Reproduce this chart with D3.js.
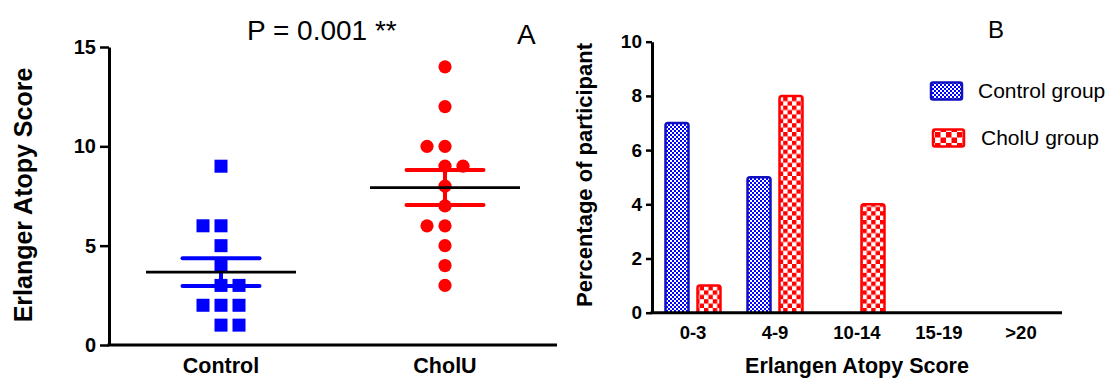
<!DOCTYPE html>
<html><head><meta charset="utf-8">
<script src="https://cdn.jsdelivr.net/npm/d3@7"></script>
<style>
body{margin:0;background:#fff}
svg{display:block}
text{font-family:Arial,"Liberation Sans",sans-serif;fill:#000}
</style>
</head><body>
<svg id="chart" width="1112" height="378"></svg>
<script>
// Panel A: individual Erlanger atopy scores per group
const groups = ["Control", "CholU"];
const controlScores = [9, 6, 6, 5, 4, 3, 3, 2, 2, 2, 1, 1];
const cholUScores = [14, 12, 10, 10, 9, 9, 8, 7, 6, 6, 5, 4, 3];
const scoreTicks = [0, 5, 10, 15];

// Panel B: number of participants in each score band
const scoreBands = ["0-3", "4-9", "10-14", "15-19", ">20"];
const controlCounts = [7, 5, 0, 0, 0];
const cholUCounts = [1, 8, 4, 0, 0];
const countTicks = [0, 2, 4, 6, 8, 10];
const seriesNames = ["Control group", "CholU group"];

const BLUE = "#0000ff", BLUE_EDGE = "#1010c0", RED = "#ff0000";

const svg = d3.select("#chart");
const defs = svg.append("defs");

// checkered fills for the bars
function checker(id, size, color) {
  const p = defs.append("pattern").attr("id", id)
    .attr("patternUnits", "userSpaceOnUse")
    .attr("width", size * 2).attr("height", size * 2);
  p.append("rect").attr("width", size * 2).attr("height", size * 2).attr("fill", "#fff");
  p.append("rect").attr("width", size).attr("height", size).attr("fill", color);
  p.append("rect").attr("x", size).attr("y", size).attr("width", size).attr("height", size).attr("fill", color);
}
checker("blueCheck", 2, BLUE);
checker("redCheck", 4.4, RED);
checker("redCheckKey", 5.5, RED);

/* ---------------- Panel A ---------------- */
const yA = d3.scaleLinear().domain([0, 15]).range([345, 47]);
const xA = d3.scalePoint().domain(groups).range([109, 557]).padding(0.5);

const gA = svg.append("g");

// y axis
const axA = gA.append("g").attr("transform", "translate(109,0)")
  .call(d3.axisLeft(yA).tickValues(scoreTicks).tickSize(9).tickSizeOuter(0).tickPadding(4));
axA.select(".domain").attr("stroke", "#000").attr("stroke-width", 3);
axA.selectAll(".tick line").attr("stroke", "#000").attr("stroke-width", 2.5);
axA.selectAll(".tick text").style("font-size", "20px").style("font-weight", "bold")
  .attr("fill", "#000");

// x axis line + category labels
gA.append("line").attr("x1", xA.range()[0] - 1.5).attr("x2", xA.range()[1])
  .attr("y1", yA(0)).attr("y2", yA(0)).attr("stroke", "#000").attr("stroke-width", 3);
gA.selectAll("text.cat").data(groups).join("text").attr("class", "cat")
  .attr("x", d => xA(d)).attr("y", 373).attr("text-anchor", "middle")
  .style("font-size", "21.5px").style("font-weight", "bold").text(d => d);

// side-by-side placement of tied scores (column offset in marker widths)
const controlCols = [0, -1, 0, 0, 0, 0, 1, -1, 0, 1, 0, 1];
const cholUCols = [0, 0, -1, 0, 0, 1, 0, 0, -1, 0, 0, 0, 0];
const colStep = 18;

gA.append("g").selectAll("rect").data(controlScores).join("rect")
  .attr("x", (d, i) => xA("Control") + controlCols[i] * colStep - 6.5)
  .attr("y", d => yA(d) - 6.5).attr("width", 13).attr("height", 13)
  .attr("fill", BLUE);

gA.append("g").selectAll("circle").data(cholUScores).join("circle")
  .attr("cx", (d, i) => xA("CholU") + cholUCols[i] * colStep)
  .attr("cy", d => yA(d)).attr("r", 6.6).attr("fill", RED);

// mean and SEM for each group
function meanSem(arr) {
  const m = d3.mean(arr);
  const s = d3.deviation(arr) / Math.sqrt(arr.length);
  return [m, s];
}
[["Control", controlScores, BLUE], ["CholU", cholUScores, RED]].forEach(([g, arr, col]) => {
  const [m, s] = meanSem(arr);
  const cx = xA(g);
  gA.append("line").attr("x1", cx).attr("x2", cx)
    .attr("y1", yA(m + s)).attr("y2", yA(m - s))
    .attr("stroke", col).attr("stroke-width", 4);
  [m + s, m - s].forEach(v => {
    gA.append("line").attr("x1", cx - 38.5).attr("x2", cx + 38.5)
      .attr("y1", yA(v)).attr("y2", yA(v))
      .attr("stroke", col).attr("stroke-width", 4).attr("stroke-linecap", "round");
  });
  gA.append("line").attr("x1", cx - 75).attr("x2", cx + 75)
    .attr("y1", yA(m)).attr("y2", yA(m))
    .attr("stroke", "#000").attr("stroke-width", 2.6);
});

gA.append("text").attr("x", 247).attr("y", 40).style("font-size", "28px").text("P = 0.001 **");
gA.append("text").attr("x", 517).attr("y", 44).style("font-size", "28px").text("A");
gA.append("text").attr("transform", "translate(32,195) rotate(-90)")
  .attr("text-anchor", "middle").style("font-size", "25px").style("font-weight", "bold")
  .text("Erlanger Atopy Score");

/* ---------------- Panel B ---------------- */
const yB = d3.scaleLinear().domain([0, 10]).range([312.7, 41.7]);
const xB = d3.scaleBand().domain(scoreBands).range([652, 1062]);
const barW = 23, barOff = 16;

const gB = svg.append("g");
const axB = gB.append("g").attr("transform", "translate(652,0)")
  .call(d3.axisLeft(yB).tickValues(countTicks).tickSize(6).tickSizeOuter(0).tickPadding(4));
axB.select(".domain").attr("stroke", "#000").attr("stroke-width", 3);
axB.selectAll(".tick line").attr("stroke", "#000").attr("stroke-width", 2.5);
axB.selectAll(".tick text").style("font-size", "19px").style("font-weight", "bold")
  .attr("fill", "#000");

gB.selectAll("text.band").data(scoreBands).join("text").attr("class", "band")
  .attr("x", d => xB(d) + xB.bandwidth() / 2).attr("y", 339)
  .attr("text-anchor", "middle").style("font-size", "18.5px").style("font-weight", "bold")
  .text(d => d);

function bars(counts, dx, fill, edge) {
  gB.append("g").selectAll("path").data(counts.map((v, i) => [scoreBands[i], v]).filter(d => d[1] > 0))
    .join("path")
    .attr("d", d => {
      const x0 = xB(d[0]) + xB.bandwidth() / 2 + dx - barW / 2;
      const y0 = yB(d[1]), y1 = yB(0), r = 2.5;
      return `M${x0},${y1}V${y0 + r}Q${x0},${y0} ${x0 + r},${y0}H${x0 + barW - r}` +
        `Q${x0 + barW},${y0} ${x0 + barW},${y0 + r}V${y1}`;
    })
    .attr("fill", fill).attr("stroke", edge).attr("stroke-width", 2.5);
}
bars(controlCounts, -barOff, "url(#blueCheck)", BLUE_EDGE);
bars(cholUCounts, barOff, "url(#redCheck)", RED);

// x axis line drawn over the bar bottoms
gB.append("line").attr("x1", 650.5).attr("x2", 1062)
  .attr("y1", yB(0)).attr("y2", yB(0)).attr("stroke", "#000").attr("stroke-width", 3);

gB.append("text").attr("transform", "translate(592,175) rotate(-90)")
  .attr("text-anchor", "middle").style("font-size", "22px").style("font-weight", "bold")
  .text("Percentage of participant");
gB.append("text").attr("x", 857).attr("y", 372.5).attr("text-anchor", "middle")
  .style("font-size", "21.5px").style("font-weight", "bold").text("Erlangen Atopy Score");
gB.append("text").attr("x", 988).attr("y", 38).style("font-size", "24px").text("B");

// legend
const legend = gB.append("g");
legend.append("rect").attr("x", 931).attr("y", 82.5).attr("width", 31).attr("height", 17)
  .attr("rx", 2).attr("fill", "url(#blueCheck)").attr("stroke", BLUE_EDGE).attr("stroke-width", 2.5);
legend.append("rect").attr("x", 933).attr("y", 129.5).attr("width", 31).attr("height", 17)
  .attr("rx", 2).attr("fill", "url(#redCheckKey)").attr("stroke", RED).attr("stroke-width", 2.5);
legend.append("text").attr("x", 978).attr("y", 98).style("font-size", "21px").text(seriesNames[0]);
legend.append("text").attr("x", 981).attr("y", 144.5).style("font-size", "21px").text(seriesNames[1]);
</script>
</body></html>
